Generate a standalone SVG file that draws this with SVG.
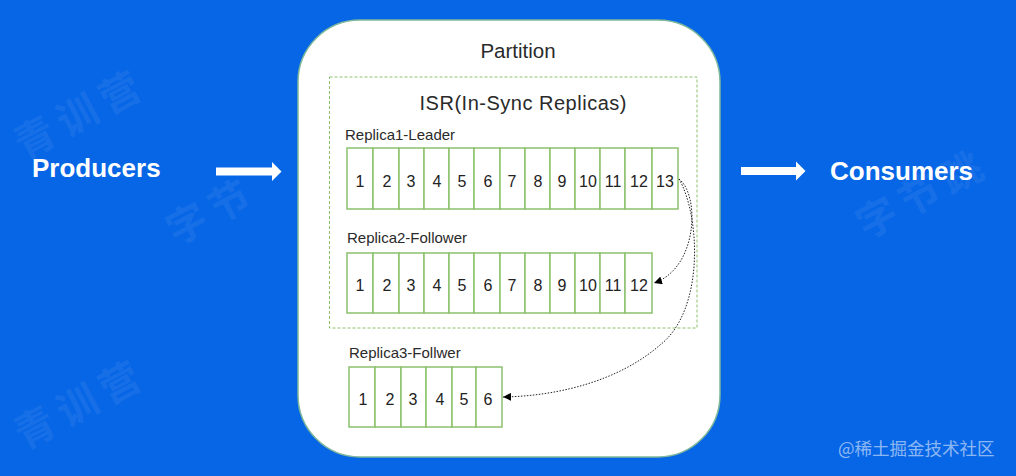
<svg xmlns="http://www.w3.org/2000/svg" width="1016" height="476" viewBox="0 0 1016 476">
<defs>
<style>
.wm{font-family:"Noto Sans CJK SC",sans-serif;font-weight:700;font-size:40px;letter-spacing:8px;fill:#ffffff;opacity:0.06}
.big{font-family:"Liberation Sans",Arial,sans-serif;font-weight:700;font-size:26px;fill:#ffffff}
.t{font-family:"Liberation Sans",Arial,sans-serif;fill:#2a2a2a}
.cell{fill:#ffffff;stroke:#8cc16c;stroke-width:1.5}
.num{font-family:"Liberation Sans",Arial,sans-serif;font-size:16px;fill:#222;text-anchor:middle}
.lbl{font-family:"Liberation Sans",Arial,sans-serif;font-size:15px;fill:#2a2a2a}
.dot{fill:none;stroke:#222;stroke-width:1;stroke-dasharray:1.5 1.5}
</style>
<marker id="ah" viewBox="0 0 10 10" refX="10" refY="5" markerWidth="8" markerHeight="8" markerUnits="userSpaceOnUse" orient="auto">
<path d="M0,0 L10,5 L0,10 z" fill="#000"/>
</marker>
</defs>
<rect width="1016" height="476" fill="#0766e6"/>
<g id="watermarks">
<text class="wm" transform="translate(24,160) rotate(-28)">青训营</text>
<text class="wm" transform="translate(176,246) rotate(-28)">字节</text>
<text class="wm" transform="translate(24,450) rotate(-28)">青训营</text>
<text class="wm" transform="translate(866,240) rotate(-28)">字节跳</text>
</g>
<g id="producers">
<text class="big" x="32" y="177">Producers</text>
</g>
<g id="consumers">
<text class="big" x="830" y="180">Consumers</text>
</g>
<g id="partition">
<rect x="298" y="20" width="422" height="437" rx="62" ry="62" fill="#ffffff" stroke="#7fb89a" stroke-width="1.5"/>
<text class="t" x="518" y="58" font-size="20.5" text-anchor="middle">Partition</text>
</g>
<g id="isr">
<rect x="329.5" y="77" width="367.5" height="251" fill="none" stroke="#8cc16c" stroke-width="1" stroke-dasharray="3 2"/>
<text class="t" x="523" y="110" font-size="20" text-anchor="middle" textLength="207">ISR(In-Sync Replicas)</text>
</g>
<g id="replica1">
<text class="lbl" x="345" y="140">Replica1-Leader</text>
<rect class="cell" x="347" y="148" width="26" height="61"/>
<rect class="cell" x="373" y="148" width="26" height="61"/>
<rect class="cell" x="399" y="148" width="25" height="61"/>
<rect class="cell" x="424" y="148" width="25" height="61"/>
<rect class="cell" x="449" y="148" width="25" height="61"/>
<rect class="cell" x="474" y="148" width="26" height="61"/>
<rect class="cell" x="500" y="148" width="25" height="61"/>
<rect class="cell" x="525" y="148" width="25" height="61"/>
<rect class="cell" x="550" y="148" width="25" height="61"/>
<rect class="cell" x="575" y="148" width="25" height="61"/>
<rect class="cell" x="600" y="148" width="25" height="61"/>
<rect class="cell" x="625" y="148" width="27" height="61"/>
<rect class="cell" x="652" y="148" width="26" height="61"/>
<text class="num" x="360" y="187">1</text>
<text class="num" x="387" y="187">2</text>
<text class="num" x="411" y="187">3</text>
<text class="num" x="437" y="187">4</text>
<text class="num" x="462" y="187">5</text>
<text class="num" x="488" y="187">6</text>
<text class="num" x="512" y="187">7</text>
<text class="num" x="538" y="187">8</text>
<text class="num" x="562" y="187">9</text>
<text class="num" x="588" y="187">10</text>
<text class="num" x="613" y="187">11</text>
<text class="num" x="639" y="187">12</text>
<text class="num" x="665" y="187">13</text>
</g>
<g id="replica2">
<text class="lbl" x="347" y="243">Replica2-Follower</text>
<rect class="cell" x="347" y="253" width="26" height="60"/>
<rect class="cell" x="373" y="253" width="26" height="60"/>
<rect class="cell" x="399" y="253" width="25" height="60"/>
<rect class="cell" x="424" y="253" width="25" height="60"/>
<rect class="cell" x="449" y="253" width="25" height="60"/>
<rect class="cell" x="474" y="253" width="26" height="60"/>
<rect class="cell" x="500" y="253" width="25" height="60"/>
<rect class="cell" x="525" y="253" width="25" height="60"/>
<rect class="cell" x="550" y="253" width="25" height="60"/>
<rect class="cell" x="575" y="253" width="25" height="60"/>
<rect class="cell" x="600" y="253" width="25" height="60"/>
<rect class="cell" x="625" y="253" width="27" height="60"/>
<text class="num" x="360" y="291">1</text>
<text class="num" x="387" y="291">2</text>
<text class="num" x="411" y="291">3</text>
<text class="num" x="437" y="291">4</text>
<text class="num" x="462" y="291">5</text>
<text class="num" x="488" y="291">6</text>
<text class="num" x="512" y="291">7</text>
<text class="num" x="538" y="291">8</text>
<text class="num" x="562" y="291">9</text>
<text class="num" x="588" y="291">10</text>
<text class="num" x="613" y="291">11</text>
<text class="num" x="639" y="291">12</text>
</g>
<g id="replica3">
<text class="lbl" x="349" y="358">Replica3-Follwer</text>
<rect class="cell" x="349" y="367" width="26" height="60"/>
<rect class="cell" x="375" y="367" width="26" height="60"/>
<rect class="cell" x="401" y="367" width="25" height="60"/>
<rect class="cell" x="426" y="367" width="26" height="60"/>
<rect class="cell" x="452" y="367" width="24" height="60"/>
<rect class="cell" x="476" y="367" width="26" height="60"/>
<text class="num" x="363" y="405">1</text>
<text class="num" x="390" y="405">2</text>
<text class="num" x="413" y="405">3</text>
<text class="num" x="440" y="405">4</text>
<text class="num" x="464" y="405">5</text>
<text class="num" x="488" y="405">6</text>
</g>
<g id="connectors">
<path d="M216,167.5 H272 V162 L281.5,171.5 L272,181 V175.5 H216 z" fill="#ffffff"/>
<path d="M741,167 H796 V161.5 L805.5,171 L796,180.5 V175 H741 z" fill="#ffffff"/>
<path class="dot" d="M679,179 C700,195 698,268 654,283" marker-end="url(#ah)"/>
<path class="dot" d="M679,179 C700,215 705,310 660,345 C620,380 560,396 503,397" marker-end="url(#ah)"/>
</g>
<g id="credit">
<text x="838" y="455" font-family="'Noto Sans CJK SC',sans-serif" font-size="17.5" fill="#ffffff" fill-opacity="0.55">@稀土掘金技术社区</text>
</g>
</svg>
